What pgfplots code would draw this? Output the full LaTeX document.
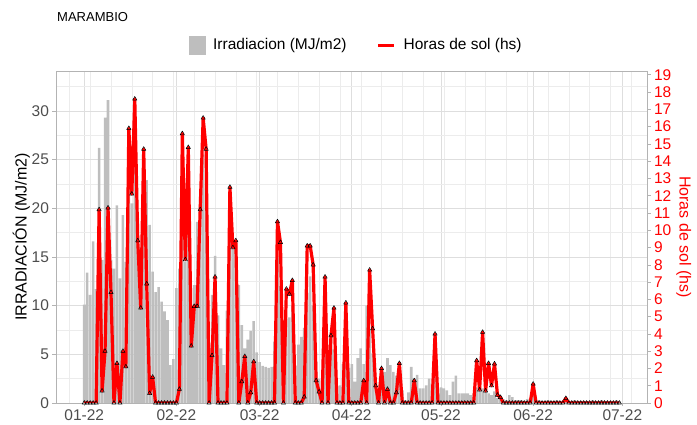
\documentclass[border=0pt]{standalone}
\usepackage{pgfplots}
\usepackage{pgfplotstable}
\pgfplotsset{compat=1.18}
\usepackage{fontspec}
\setmainfont{Liberation Sans}
\definecolor{barcol}{RGB}{190,190,190}
\definecolor{gridmaj}{RGB}{222,222,222}
\definecolor{gridmin}{RGB}{236,236,236}
\definecolor{bordercol}{RGB}{179,179,179}
\definecolor{ticklab}{RGB}{77,77,77}
\pgfplotstableread{
d irr hs
0 10.1 0
1 13.4 0
2 11.1 0
3 16.6 0
4 11.7 0
5 26.2 11.2
6 14.7 0.7
7 29.3 3.0
8 31.1 11.3
9 14.7 6.4
10 13.8 0
11 20.3 2.3
12 12.8 0
13 19.3 3.0
14 14.5 2.1
15 26.0 15.9
16 20.5 12.1
17 27.5 17.6
18 19.0 9.4
19 16.0 5.5
20 18.0 14.7
21 22.9 6.9
22 18.3 0.56
23 13.5 1.5
24 11.4 0
25 11.9 0
26 10.4 0
27 9.4 0
28 8.5 0
29 3.9 0
30 4.5 0
31 11.8 0
32 13.8 0.8
33 20.0 15.6
34 14.5 8.3
35 19.5 14.8
36 9.0 3.3
37 12.1 5.6
38 18.6 5.6
39 20.9 11.2
40 25.5 16.5
41 22.0 14.7
42 6.0 0
43 11.1 2.75
44 15.1 7.3
45 9.0 0
46 5.6 0
47 3.9 0
48 9.5 0
49 20.5 12.5
50 15.8 9.0
51 16.2 9.4
52 12.1 0
53 8.0 1.24
54 5.6 2.7
55 6.5 0
56 7.4 0.6
57 8.4 2.4
58 5.2 0
59 4.2 0
60 3.8 0
61 3.7 0
62 3.6 0
63 3.7 0
64 6.3 0
65 15.0 10.5
66 12.0 9.3
67 6.0 0
68 8.7 6.6
69 8.8 6.3
70 10.0 7.1
71 3.8 0
72 6.0 0
73 6.8 0
74 7.7 0.35
75 11.3 9.1
76 13.0 9.1
77 10.0 8.0
78 4.3 1.3
79 2.5 0.65
80 1.5 0
81 9.0 7.3
82 3.1 0
83 7.2 3.9
84 5.5 5.5
85 1.7 0
86 1.8 0
87 4.0 0
88 8.0 5.8
89 3.6 0
90 4.0 0
91 2.2 0
92 4.6 0
93 5.6 0
94 4.0 1.3
95 10.0 0
96 7.5 7.7
97 5.1 4.3
98 2.0 1.0
99 1.3 0
100 2.5 2.0
101 3.2 0
102 4.6 0.8
103 3.9 0
104 3.2 0
105 2.8 0.6
106 3.5 2.3
107 1.3 0
108 0.3 0
109 1.1 0
110 3.7 0
111 2.5 1.3
112 2.9 0
113 1.5 0
114 1.5 0
115 1.8 0
116 2.5 0
117 2.0 0
118 3.0 4.0
119 1.0 0
120 1.6 0
121 1.5 0
122 1.3 0
123 0.8 0
124 2.2 0
125 2.8 0
126 1.0 0
127 1.0 0
128 1.0 0
129 1.0 0
130 0.8 0
131 1.0 0
132 1.6 2.46
133 1.2 0.76
134 1.5 4.1
135 2.2 0.7
136 1.0 2.3
137 0.8 1.0
138 1.2 2.27
139 0.5 0.46
140 0.4 0.33
141 0.4 0
142 0.3 0
143 0.8 0
144 0.6 0
145 0.3 0
146 0.3 0
147 0.3 0
148 0.2 0
149 0.4 0
150 0.5 0
151 0.9 1.1
152 0.3 0
153 0.3 0
154 0.2 0
155 0.2 0
156 0.3 0
157 0.2 0
158 0.2 0
159 0.3 0
160 0.2 0
161 0.2 0
162 0.4 0.27
163 0.2 0
164 0.2 0
165 0.3 0
166 0.2 0
167 0.2 0
168 0.2 0
169 0.2 0
170 0.2 0
171 0.3 0
172 0.2 0
173 0.2 0
174 0.3 0
175 0.2 0
176 0.2 0
177 0.2 0
178 0.2 0
179 0.3 0
180 0.2 0
}\data
\begin{document}
\begin{tikzpicture}
\useasboundingbox (0pt,0pt) rectangle (697pt,425pt);
\node[anchor=base west, font=\fontsize{13}{13}\selectfont, inner sep=0pt] at (57pt,403pt) {MARAMBIO};
\begin{axis}[
  at={(56pt,22pt)}, anchor=south west,
  scale only axis, width=591pt, height=332pt,
  xmin=-9.5, xmax=189.3, ymin=0, ymax=34.1,
  xtick={0,31,59,90,120,151,181},
  xticklabels={01-22,02-22,03-22,04-22,05-22,06-22,07-22},
  minor xtick={-5,2,9,16,23,30,37,44,51,58,65,72,79,86,93,100,107,114,121,128,135,142,149,156,163,170,177,184},
  ytick={0,5,10,15,20,25,30},
  minor ytick={2.5,7.5,12.5,17.5,22.5,27.5,32.5},
  grid=both,
  major grid style={color=gridmaj, line width=0.6pt},
  minor grid style={color=gridmin, line width=0.4pt},
  axis line style={color=bordercol, line width=0.7pt},
  tick style={color=bordercol, line width=0.6pt},
  tick align=outside, major tick length=3.5pt, minor tick length=0pt,
  xtick pos=bottom, ytick pos=left,
  /pgf/number format/assume math mode=true,
  tick label style={font=\fontsize{15.5}{15.5}\selectfont, text=ticklab},
  ylabel={IRRADIACIÓN (MJ/m2)},
  every axis y label/.style={at={(axis description cs:-0.0585,0.5)}, anchor=center, rotate=90, font=\fontsize{16}{16}\selectfont},
  legend style={draw=none, fill=none, at={(0.508,1.078)}, anchor=center, font=\fontsize{15.5}{15.5}\selectfont,
    /tikz/every odd column/.append style={column sep=6pt},
    /tikz/every even column/.append style={column sep=28pt}},
  legend columns=2,
  legend cell align=left,
]
\addplot[ybar, bar shift=0pt, bar width=0.86, fill=barcol, draw=none, forget plot] table[x=d, y=irr] {\data};
\addlegendimage{legend image code/.code={\fill[barcol] (0pt,-9pt) rectangle (16pt,9pt);}}
\addlegendentry{Irradiacion (MJ/m2)}
\addlegendimage{legend image code/.code={\draw[red, line width=3pt] (0pt,0pt) -- (16pt,0pt);}}
\addlegendentry{Horas de sol (hs)}
\end{axis}
\begin{axis}[
  at={(56pt,22pt)}, anchor=south west,
  scale only axis, width=591pt, height=332pt,
  xmin=-9.5, xmax=189.3, ymin=0, ymax=19.22,
  axis x line=none, axis y line*=right,
  ytick={0,1,...,19},
  axis line style={color=bordercol, line width=0.7pt},
  tick style={color=bordercol, line width=0.6pt},
  tick align=outside, major tick length=3.5pt,
  /pgf/number format/assume math mode=true,
  yticklabel style={font=\fontsize{15.5}{15.5}\selectfont, text=red},
  ylabel={Horas de sol (hs)},
  every axis y label/.style={at={(axis description cs:1.062,0.5)}, anchor=center, rotate=-90, font=\fontsize{16}{16}\selectfont, text=red},
]
\addplot[red, line width=3.2pt, line join=round, mark=triangle, mark size=2.5pt, mark options={draw=black, line width=0.5pt, solid}] table[x=d, y=hs] {\data};
\end{axis}
\end{tikzpicture}
\end{document}
